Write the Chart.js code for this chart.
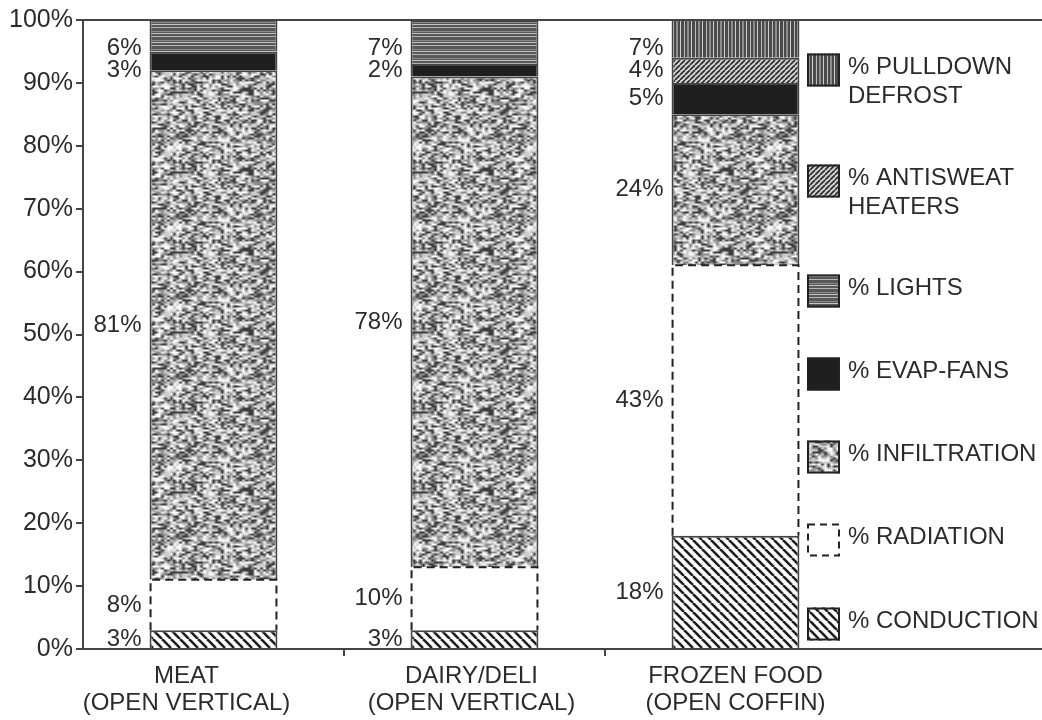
<!DOCTYPE html>
<html>
<head>
<meta charset="utf-8">
<script src="https://cdn.jsdelivr.net/npm/chart.js@4.4.1/dist/chart.umd.min.js"></script>
<style>
  html, body { margin: 0; padding: 0; background: #fff; }
  #wrap { width: 1042px; height: 720px; }
</style>
</head>
<body>
<div id="wrap"><canvas id="c" width="1042" height="720"></canvas></div>
<script>
(function () {
    'use strict';

    // ---- data ----
    var categories = [
        ['MEAT', '(OPEN VERTICAL)'],
        ['DAIRY/DELI', '(OPEN VERTICAL)'],
        ['FROZEN FOOD', '(OPEN COFFIN)']
    ];
    var conduction = [3, 3, 18];
    var radiation = [8, 10, 43];
    var infiltration = [81, 78, 24];
    var evapFans = [3, 2, 5];
    var lights = [6, 7, null];
    var antisweat = [null, null, 4];
    var pulldown = [null, null, 7];
    var yTickValues = [0, 10, 20, 30, 40, 50, 60, 70, 80, 90, 100];
    var seriesNames = [
        ['% CONDUCTION'],
        ['% RADIATION'],
        ['% INFILTRATION'],
        ['% EVAP-FANS'],
        ['% LIGHTS'],
        ['% ANTISWEAT', 'HEATERS'],
        ['% PULLDOWN', 'DEFROST']
    ];

    var FONT = "'Liberation Sans', Arial, Helvetica, sans-serif";
    var TEXT = '#2b2b2b';
    var LINE = '#444444';

    // ---- fill patterns ----
    function tile(w, h, draw) {
        var c = document.createElement('canvas');
        c.width = w;
        c.height = h;
        var g = c.getContext('2d');
        draw(g, w, h);
        return g.createPattern(c, 'repeat');
    }

    function hash(x, y) {
        var n = Math.imul(x, 374761393) + Math.imul(y, 668265263);
        n = Math.imul(n ^ (n >>> 13), 1274126177);
        n = n ^ (n >>> 16);
        return (n >>> 0) / 4294967296;
    }

    var patConduction = tile(9, 9, function (g, w, h) {
        g.fillStyle = '#fff';
        g.fillRect(0, 0, w, h);
        g.strokeStyle = '#1e1e1e';
        g.lineWidth = 2.6;
        for (var k = -2; k <= 2; k++) {
            g.beginPath();
            g.moveTo(k * w, 0);
            g.lineTo(k * w + w, h);
            g.stroke();
        }
    });

    var patAntisweat = tile(5, 5, function (g, w, h) {
        g.fillStyle = '#d4d4d4';
        g.fillRect(0, 0, w, h);
        g.strokeStyle = '#2a2a2a';
        g.lineWidth = 1.6;
        for (var k = -2; k <= 2; k++) {
            g.beginPath();
            g.moveTo(k * w, h);
            g.lineTo(k * w + w, 0);
            g.stroke();
        }
    });

    var patPulldown = tile(11, 8, function (g, w, h) {
        g.fillStyle = '#4a4a4a';
        g.fillRect(0, 0, w, h);
        g.fillStyle = '#bdbdbd';
        g.fillRect(2, 0, 1, h);
        g.fillStyle = '#8c8c8c';
        g.fillRect(5, 0, 2, h);
        g.fillStyle = '#d0d0d0';
        g.fillRect(9, 0, 1, h);
    });

    var patLights = tile(8, 9, function (g, w, h) {
        g.fillStyle = '#585858';
        g.fillRect(0, 0, w, h);
        g.fillStyle = '#b4b4b4';
        g.fillRect(0, 0, w, 1);
        g.fillStyle = '#8a8a8a';
        g.fillRect(0, 4, w, 1);
        g.fillStyle = '#c4c4c4';
        g.fillRect(0, 6, w, 1);
    });

    // blurry mottled texture: coarse grey noise, bilinear upscaled with wrap so tiles join cleanly
    var patInfiltration = tile(120, 80, function (g, w, h) {
        var n = 40;
        var sx = w / n, sy = h / n;
        var grid = [];
        for (var y = 0; y < n; y++) {
            for (var x = 0; x < n; x++) {
                var r = hash(x, y);
                grid.push(r < 0.24 ? 60 : r < 0.48 ? 140 : r < 0.76 ? 205 : 250);
            }
        }
        var img = g.createImageData(w, h);
        for (var py = 0; py < h; py++) {
            var fy = py / sy, iy = Math.floor(fy), ty = fy - iy;
            var y0 = iy % n, y1 = (iy + 1) % n;
            for (var px = 0; px < w; px++) {
                var fx = px / sx, ix = Math.floor(fx), tx = fx - ix;
                var x0 = ix % n, x1 = (ix + 1) % n;
                var a = grid[y0 * n + x0] * (1 - tx) + grid[y0 * n + x1] * tx;
                var b = grid[y1 * n + x0] * (1 - tx) + grid[y1 * n + x1] * tx;
                var v = a * (1 - ty) + b * ty;
                var p = (py * w + px) * 4;
                img.data[p] = img.data[p + 1] = img.data[p + 2] = v;
                img.data[p + 3] = 255;
            }
        }
        g.putImageData(img, 0, 0);
    });

    var fills = [patConduction, '#ffffff', patInfiltration, '#1f1f1f', patLights, patAntisweat, patPulldown];
    var seriesData = [conduction, radiation, infiltration, evapFans, lights, antisweat, pulldown];
    var labelNudge = [-27, -3, 0];

    var datasets = seriesData.map(function (arr, i) {
        return {
            label: seriesNames[i].join(' '),
            data: arr,
            backgroundColor: fills[i],
            borderColor: LINE,
            borderWidth: i === 1 ? 0 : 2,
            borderSkipped: 'start',
            barPercentage: 0.49,
            categoryPercentage: 1
        };
    });

    // ---- extra drawing: dashed radiation outline, value labels, legend, long axis lines ----
    var decor = {
        id: 'decor',
        afterDatasetsDraw: function (chart) {
            var ctx = chart.ctx;
            var area = chart.chartArea;

            // dashed outline of the radiation segments
            var meta = chart.getDatasetMeta(1);
            ctx.save();
            ctx.strokeStyle = '#222';
            ctx.lineWidth = 2;
            ctx.setLineDash([8, 5]);
            meta.data.forEach(function (el) {
                var l = el.x - el.width / 2 + 1;
                var r = el.x + el.width / 2 - 1;
                ctx.beginPath();
                ctx.moveTo(l, el.base);
                ctx.lineTo(l, el.y);
                ctx.lineTo(r, el.y);
                ctx.lineTo(r, el.base);
                ctx.stroke();
            });
            ctx.restore();

            // value labels left of each bar, top to bottom, kept apart
            ctx.save();
            ctx.font = '24px ' + FONT;
            ctx.fillStyle = TEXT;
            ctx.textAlign = 'right';
            ctx.textBaseline = 'middle';
            categories.forEach(function (c, j) {
                var prev = area.top + 6;
                for (var i = seriesData.length - 1; i >= 0; i--) {
                    var v = seriesData[i][j];
                    if (v == null) continue;
                    var el = chart.getDatasetMeta(i).data[j];
                    var top = Math.max(el.y, area.top);
                    var mid = (top + el.base) / 2;
                    var y = Math.max(mid, prev + 22, area.top + 27);
                    ctx.fillText(v + '%', el.x - el.width / 2 - 8, y);
                    prev = y;
                }
            });
            ctx.restore();
        },
        afterDraw: function (chart) {
            var ctx = chart.ctx;
            var area = chart.chartArea;
            var w = chart.width;
            var xs = chart.scales.x;

            ctx.save();
            ctx.strokeStyle = LINE;
            ctx.lineWidth = 2;
            ctx.beginPath();
            ctx.moveTo(area.left, area.top);
            ctx.lineTo(w, area.top);
            ctx.moveTo(area.left, area.bottom);
            ctx.lineTo(w, area.bottom);
            ctx.stroke();
            ctx.restore();

            // category labels (two lines each)
            ctx.save();
            ctx.font = '24px ' + FONT;
            ctx.fillStyle = TEXT;
            ctx.textAlign = 'center';
            ctx.textBaseline = 'middle';
            categories.forEach(function (lines, j) {
                var cx = xs.getPixelForValue(j) + labelNudge[j];
                lines.forEach(function (line, k) {
                    ctx.fillText(line, cx, area.bottom + 27 + k * 27);
                });
            });
            ctx.restore();

            // legend, top entry first
            var boxX = 807;
            var box = 33;
            var centres = [624, 540, 457, 374, 291, 181, 70];
            ctx.save();
            ctx.font = '24px ' + FONT;
            ctx.textAlign = 'left';
            ctx.textBaseline = 'middle';
            for (var i = 0; i < seriesNames.length; i++) {
                var cy = centres[i];
                var by = cy - box / 2;
                ctx.fillStyle = fills[i];
                ctx.fillRect(boxX, by, box, box);
                ctx.strokeStyle = '#222';
                ctx.lineWidth = 2;
                if (i === 1) ctx.setLineDash([7, 5]);
                ctx.strokeRect(boxX + 1, by + 1, box - 2, box - 2);
                ctx.setLineDash([]);
                ctx.fillStyle = TEXT;
                seriesNames[i].forEach(function (line, k) {
                    ctx.fillText(line, boxX + box + 8, cy - 3 + k * 29);
                });
            }
            ctx.restore();
        }
    };

    new Chart(document.getElementById('c').getContext('2d'), {
        type: 'bar',
        data: { labels: categories, datasets: datasets },
        plugins: [decor],
        options: {
            responsive: false,
            animation: false,
            devicePixelRatio: 1,
            layout: { padding: { top: 20, right: 176, left: 0, bottom: 0 } },
            plugins: {
                legend: { display: false },
                tooltip: { enabled: false }
            },
            scales: {
                x: {
                    stacked: true,
                    afterFit: function (scale) { scale.height = 71; },
                    border: { display: false },
                    grid: {
                        offset: true,
                        drawOnChartArea: false,
                        tickLength: 7,
                        lineWidth: 2,
                        color: function (c) {
                            return c.index === 1 || c.index === 2 ? LINE : 'rgba(0,0,0,0)';
                        }
                    },
                    ticks: { display: false }
                },
                y: {
                    stacked: true,
                    min: 0,
                    max: 100,
                    afterFit: function (scale) { scale.width = 83; },
                    afterBuildTicks: function (scale) {
                        scale.ticks = yTickValues.map(function (v) { return { value: v }; });
                    },
                    border: { display: true, color: LINE, width: 2 },
                    grid: {
                        drawOnChartArea: false,
                        tickLength: 7,
                        lineWidth: 2,
                        color: LINE
                    },
                    ticks: {
                        color: TEXT,
                        padding: 3,
                        font: { family: FONT, size: 25 },
                        callback: function (v) { return v + '%'; }
                    }
                }
            }
        }
    });
})();
</script>
</body>
</html>
